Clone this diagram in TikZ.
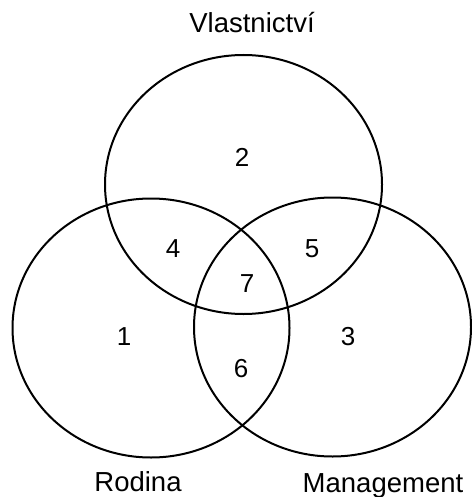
\documentclass[tikz,border=0pt]{standalone}
\usepackage{fontspec}
\setmainfont{Liberation Sans}
\usepackage{tikz}

\begin{document}
\begin{tikzpicture}[x=1pt, y=-1pt,
	setline/.style={line width=2pt},
	lbl/.style={font=\fontsize{27.5}{32}\selectfont, inner sep=0pt},
	num/.style={font=\fontsize{26}{30}\selectfont, inner sep=0pt}]
	\useasboundingbox (0, 0) rectangle (471, 497);
	% Sets:
	\coordinate (own) at (243.5, 184.5);
	\coordinate (fam) at (151, 328);
	\coordinate (man) at (332.5, 327);
	\draw[setline] (own) ellipse (138.5 and 129.5);
	\draw[setline] (fam) ellipse (138.5 and 129.5);
	\draw[setline] (man) ellipse (138.5 and 129.5);
	% Set names:
	\node[lbl] (Own) at (252, 23){Vlastnictví};
	\node[lbl] (Fam) at (138, 482){Rodina};
	\node[lbl] (Man) at (383, 486){Management};
	% Regions:
	\node[num] (R1) at (124, 337){1};
	\node[num] (R2) at (242, 157){2};
	\node[num] (R3) at (348, 337){3};
	\node[num] (R4) at (173, 249){4};
	\node[num] (R5) at (312, 249){5};
	\node[num] (R6) at (241, 369){6};
	\node[num] (R7) at (247, 284){7};
\end{tikzpicture}
\end{document}
